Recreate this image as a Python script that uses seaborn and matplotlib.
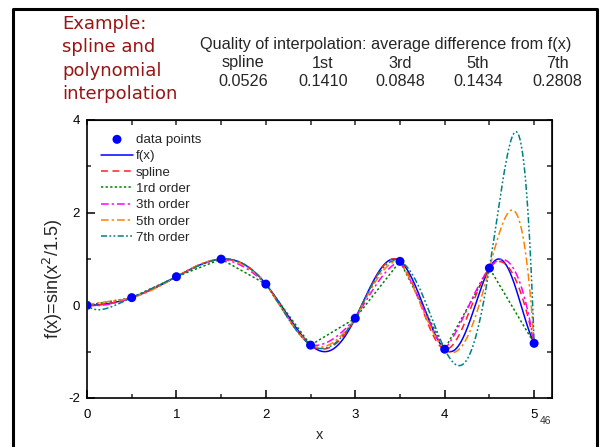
import numpy as np
import pandas as pd
import matplotlib
matplotlib.use("Agg")
import matplotlib.pyplot as plt
from matplotlib.lines import Line2D
from matplotlib.ticker import MultipleLocator
import seaborn as sns

# ---- data ----
x_points = [0.0, 0.5, 1.0, 1.5, 2.0, 2.5, 3.0, 3.5, 4.0, 4.5, 5.0]
y_points = [0.0, 0.166, 0.618, 0.997, 0.458, -0.859, -0.279, 0.949, -0.947, 0.804, -0.820]
orders = [1, 3, 5, 7]
order_labels = ["1rd order", "3th order", "5th order", "7th order"]
quality_names = ["spline", "1st", "3rd", "5th", "7th"]
quality_values = ["0.0526", "0.1410", "0.0848", "0.1434", "0.2808"]

sns.set_style("ticks")
plt.rcParams['font.family'] = ['Liberation Sans', 'DejaVu Sans']
plt.rcParams['axes.unicode_minus'] = False

xp = np.array(x_points)
yp = np.array(y_points)
xs = np.linspace(xp[0], xp[-1], 801)

# function shown on the axis label
f_curve = np.sin(xs ** 2 / 1.5)

# cubic spline through data points (parabolic run-out end conditions)
def spline(x, y, xe):
    n = len(x)
    h = np.diff(x)
    A = np.zeros((n, n)); b = np.zeros(n)
    A[0, 0] = 1; A[0, 1] = -1
    A[-1, -1] = 1; A[-1, -2] = -1
    for i in range(1, n - 1):
        A[i, i - 1] = h[i - 1]; A[i, i] = 2 * (h[i - 1] + h[i]); A[i, i + 1] = h[i]
        b[i] = 6 * ((y[i + 1] - y[i]) / h[i] - (y[i] - y[i - 1]) / h[i - 1])
    M = np.linalg.solve(A, b)
    idx = np.clip(np.searchsorted(x, xe, side='right') - 1, 0, n - 2)
    x0 = x[idx]; x1 = x[idx + 1]; hh = h[idx]
    return (M[idx] * (x1 - xe) ** 3 / (6 * hh) + M[idx + 1] * (xe - x0) ** 3 / (6 * hh)
            + (y[idx] / hh - M[idx] * hh / 6) * (x1 - xe)
            + (y[idx + 1] / hh - M[idx + 1] * hh / 6) * (xe - x0))

def local_poly(x, y, xe, n):
    N = len(x)
    idx = np.clip(np.searchsorted(x, xe, side='right') - 1, 0, N - 2)
    out = np.empty_like(xe)
    for j in np.unique(idx):
        k = int(np.clip(j - (n - 1) // 2, 0, N - 1 - n))
        coef = np.polyfit(x[k:k + n + 1], y[k:k + n + 1], n)
        m = idx == j
        out[m] = np.polyval(coef, xe[m])
    return out

spline_curve = spline(xp, yp, xs)
poly_curves = [local_poly(xp, yp, xs, n) for n in orders]

fig = plt.figure(figsize=(6.0, 4.47), dpi=100)
W, H = 600, 447
ax = fig.add_axes([87 / W, 1 - 398 / H, (552 - 87) / W, (398 - 120) / H])

styles = [
    ("#008000", (0, (1.5, 1.5))),
    ("#FF00FF", (0, (5, 2, 1.5, 2))),
    ("#FF8000", (0, (5, 2, 1.5, 2))),
    ("#008080", (0, (4, 1.5, 1.2, 1.5, 1.2, 1.5))),
]
lw = 1.1
sns.lineplot(x=xs, y=f_curve, ax=ax, color="#0000FF", lw=lw, label="f(x)", zorder=3)
sns.lineplot(x=xs, y=spline_curve, ax=ax, color="#FF2020", lw=lw,
             linestyle=(0, (4.5, 3)), label="spline", zorder=3)
for curve, lab, (col, ls) in zip(poly_curves, order_labels, styles):
    sns.lineplot(x=xs, y=curve, ax=ax, color=col, lw=lw, linestyle=ls, label=lab, zorder=3)
sns.scatterplot(x=xp, y=yp, ax=ax, color="#0000FF", s=42, edgecolor="none",
                label="data points", zorder=5)

ax.set_xlim(0, 5.2)
ax.set_ylim(-2, 4)
ax.xaxis.set_major_locator(MultipleLocator(1))
ax.xaxis.set_minor_locator(MultipleLocator(0.5))
ax.yaxis.set_major_locator(MultipleLocator(2))
ax.yaxis.set_minor_locator(MultipleLocator(1))
ax.set_xticks([0, 1, 2, 3, 4, 5])
ax.tick_params(which='major', direction='in', length=6, width=1.1, labelsize=9.5,
               colors='black')
ax.tick_params(which='minor', direction='in', length=3, width=1.1)
ax.tick_params(axis='x', which='major', pad=8)
ax.tick_params(axis='y', which='major', pad=5)
for s in ax.spines.values():
    s.set_linewidth(1.2)
    s.set_color('black')
    s.set_visible(True)

top = ax.secondary_xaxis('top')
top.xaxis.set_major_locator(MultipleLocator(0.5))
top.tick_params(direction='in', length=3.5, width=1.1, labeltop=False)
right = ax.secondary_yaxis('right')
right.yaxis.set_major_locator(MultipleLocator(1))
right.tick_params(direction='in', length=3.5, width=1.1, labelright=False)

ax.set_xlabel("x", fontsize=10.5, labelpad=5)
ax.set_ylabel("f(x)=sin(x$^{2}$/1.5)", fontsize=13)
ax.yaxis.set_label_coords(-0.047, 0.428)

handles, labels = ax.get_legend_handles_labels()
order = [labels.index("data points")] + [i for i, l in enumerate(labels) if l != "data points"]
ax.legend([handles[i] for i in order], [labels[i] for i in order],
          loc='upper left', bbox_to_anchor=(0.01, 0.985), frameon=False, fontsize=9.6,
          handlelength=2.4, handletextpad=0.2, labelspacing=0.3, borderaxespad=0.3)

# slide decoration
fig.text(62 / W, 1 - 15 / H, "Example:\nspline and\npolynomial\ninterpolation",
         color="#9B1414", fontsize=13, va='top', ha='left', linespacing=1.38,
         family=['DejaVu Sans'])
fig.text(386 / W, 1 - 44 / H, "Quality of interpolation: average difference from f(x)",
         fontsize=11.7, ha='center', va='center')
col_x = [243, 323, 400, 478, 557]
for cx, nm, val in zip(col_x, quality_names, quality_values):
    fig.text(cx / W, 1 - 63 / H, nm, fontsize=11.7, ha='center', va='center')
    fig.text(cx / W, 1 - 81 / H, val, fontsize=11.7, ha='center', va='center')
fig.text(545 / W, 1 - 421 / H, "46", fontsize=7.5, color="#333333", ha='center', va='center')

border = Line2D([12.5 / W, 12.5 / W, 597 / W, 597 / W],
                [0, 1 - 8.5 / H, 1 - 8.5 / H, 0],
                transform=fig.transFigure, color='black', lw=2.2)
fig.add_artist(border)

fig.savefig("out.png", dpi=100, facecolor='white')
